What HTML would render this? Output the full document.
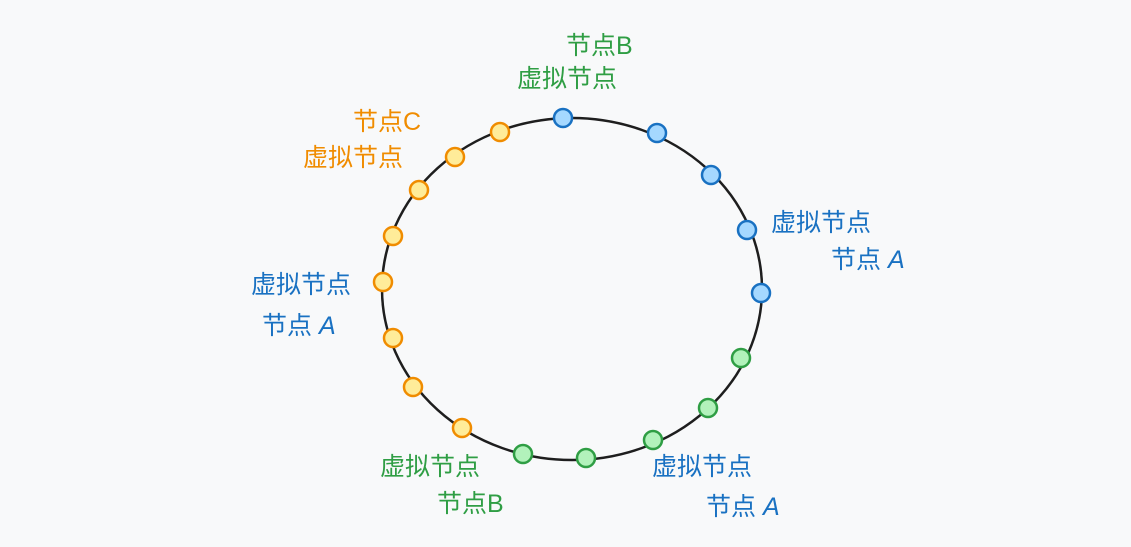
<!DOCTYPE html>
<html><head><meta charset="utf-8"><style>
html,body{margin:0;padding:0;background:#f8f9fa;}
text{font-family:"Liberation Sans","Noto Sans CJK SC",sans-serif;font-size:25px;}
</style></head><body>
<svg width="1131" height="542" viewBox="0 0 1131 542" xmlns="http://www.w3.org/2000/svg">
<rect width="1131" height="542" fill="#f8f9fa"/>
<ellipse cx="572" cy="289" rx="190" ry="171" fill="none" stroke="#1e1e1e" stroke-width="2.5"/>
<g stroke="#1971c2" stroke-width="2.5" fill="#a5d8ff">
<circle cx="563" cy="118" r="9"/><circle cx="657" cy="133" r="9"/><circle cx="711" cy="175" r="9"/><circle cx="747" cy="230" r="9"/><circle cx="761" cy="293" r="9"/>
</g>
<g stroke="#2f9e44" stroke-width="2.5" fill="#b2f2bb">
<circle cx="741" cy="358" r="9"/><circle cx="708" cy="408" r="9"/><circle cx="653" cy="440" r="9"/><circle cx="586" cy="458" r="9"/><circle cx="523" cy="454" r="9"/>
</g>
<g stroke="#f08c00" stroke-width="2.5" fill="#ffec99">
<circle cx="462" cy="428" r="9"/><circle cx="413" cy="387" r="9"/><circle cx="393" cy="338" r="9"/><circle cx="383" cy="282" r="9"/><circle cx="393" cy="236" r="9"/><circle cx="419" cy="190" r="9"/><circle cx="455" cy="157" r="9"/><circle cx="500" cy="132" r="9"/>
</g>
<g fill="#2f9e44">
<text x="566" y="54">节点B</text><text x="517" y="87">虚拟节点</text>
<text x="380" y="475">虚拟节点</text><text x="437" y="512">节点B</text>
</g>
<g fill="#f08c00">
<text x="353" y="130">节点C</text><text x="303" y="166">虚拟节点</text>
</g>
<g fill="#1971c2">
<text x="771" y="231">虚拟节点</text><text x="831" y="268">节点 <tspan font-style="italic">A</tspan></text>
<text x="251" y="293">虚拟节点</text><text x="262" y="334">节点 <tspan font-style="italic">A</tspan></text>
<text x="652" y="475">虚拟节点</text><text x="706" y="515">节点 <tspan font-style="italic">A</tspan></text>
</g>
</svg>
</body></html>
